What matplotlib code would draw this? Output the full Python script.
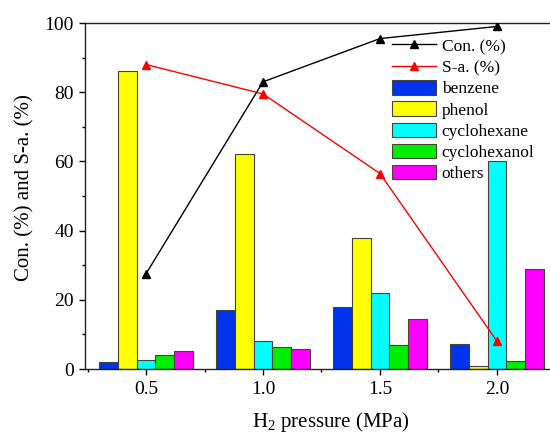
import matplotlib
matplotlib.use("Agg")
import matplotlib.pyplot as plt
import numpy as np
from matplotlib.ticker import MultipleLocator

pressure = [0.5, 1.0, 1.5, 2.0]
benzene = [2.0, 17.0, 18.0, 7.3]
phenol = [86.0, 62.0, 38.0, 0.8]
cyclohexane = [2.5, 8.2, 22.0, 60.2]
cyclohexanol = [4.0, 6.5, 7.0, 2.3]
others = [5.2, 5.7, 14.5, 29.0]
conversion = [27.5, 83.0, 95.5, 99.0]
selectivity = [88.0, 79.5, 56.5, 8.0]

plt.rcParams['font.family'] = ['Liberation Serif', 'DejaVu Serif']
plt.rcParams['mathtext.fontset'] = 'custom'
plt.rcParams['mathtext.rm'] = 'Liberation Serif'

fig = plt.figure(figsize=(5.5, 4.34), dpi=100)
ax = fig.add_axes([85/550, 1-369/434, (551-85)/550, (369-23)/434])

x = np.array(pressure)
w = 0.08
series = [("benzene", benzene, "#0033ee"),
          ("phenol", phenol, "#ffff00"),
          ("cyclohexane", cyclohexane, "#00ffff"),
          ("cyclohexanol", cyclohexanol, "#00ee00"),
          ("others", others, "#ff00ff")]
bar_handles = []
for i, (name, vals, col) in enumerate(series):
    b = ax.bar(x + (i - 2) * w, vals, width=w, color=col, edgecolor="#444433",
               linewidth=0.8, label=name, zorder=2)
    bar_handles.append(b)

l1, = ax.plot(x, conversion, color="black", marker="^", markersize=6,
              linewidth=1.0, label="Con. (%)", zorder=3)
l2, = ax.plot(x, selectivity, color="red", marker="^", markersize=6,
              linewidth=1.0, label="S-a. (%)", zorder=3)

ax.set_xlim(0.2393, 2.2308)
ax.set_ylim(0, 100)
ax.set_xticks(pressure)
ax.set_xticklabels(["0.5", "1.0", "1.5", "2.0"])
ax.xaxis.set_minor_locator(MultipleLocator(0.25))
ax.yaxis.set_major_locator(MultipleLocator(20))
ax.yaxis.set_minor_locator(MultipleLocator(10))
ax.tick_params(axis='both', which='major', direction='out', length=4, width=1,
               labelsize=14)
ax.tick_params(axis='both', which='minor', direction='out', length=2.5, width=1)
ax.tick_params(axis='x', which='major', pad=5)
ax.tick_params(axis='y', which='major', pad=4)
for s in ax.spines.values():
    s.set_linewidth(1.0)
    s.set_color("#222222")

ax.set_xlabel("H$_2$ pressure (MPa)", fontsize=15)
ax.set_ylabel("Con. (%) and S-a. (%)", fontsize=15)
ax.xaxis.set_label_coords(0.527, -0.118)
ax.yaxis.set_label_coords(-0.108, 0.523)

handles = [l1, l2] + bar_handles
labels = ["Con. (%)", "S-a. (%)", "benzene", "phenol", "cyclohexane",
          "cyclohexanol", "others"]
ax.legend(handles, labels, loc="upper left", bbox_to_anchor=(0.713, 0.913),
          bbox_transform=fig.transFigure, frameon=False, fontsize=12.5,
          handlelength=2.5, handleheight=0.9, labelspacing=0.23,
          handletextpad=0.35, borderpad=0, borderaxespad=0)

fig.savefig("out.png", dpi=100)
